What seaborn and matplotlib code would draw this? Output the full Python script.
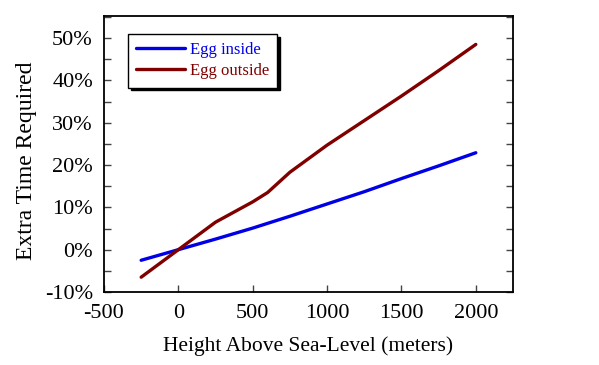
import numpy as np
import pandas as pd
import matplotlib
matplotlib.use("Agg")
import matplotlib.pyplot as plt
from matplotlib.ticker import MultipleLocator, FuncFormatter
import seaborn as sns

# データ
heights_inside = [-250, 0, 250, 500, 750, 1000, 1250, 1500, 1750, 2000]
egg_inside = [-2.5, 0.0, 2.5, 5.1, 7.9, 10.8, 13.7, 16.8, 19.8, 22.9]

heights_outside = [-250, 0, 250, 500, 600, 750, 1000, 1250, 1500, 1750, 2000]
egg_outside = [-6.5, 0.0, 6.5, 11.3, 13.5, 18.3, 24.7, 30.5, 36.3, 42.3, 48.5]

series_names = ["Egg inside", "Egg outside"]
series_colors = ["#0000e6", "#800000"]

df = pd.concat([
    pd.DataFrame({"height": heights_inside, "extra": egg_inside, "series": series_names[0]}),
    pd.DataFrame({"height": heights_outside, "extra": egg_outside, "series": series_names[1]}),
])

sns.set_style("ticks")
plt.rcParams["font.family"] = ["Liberation Serif", "DejaVu Serif"]
plt.rcParams["axes.unicode_minus"] = False
plt.rcParams["text.color"] = "black"
plt.rcParams["axes.labelcolor"] = "black"
plt.rcParams["xtick.color"] = "black"
plt.rcParams["ytick.color"] = "black"

fig = plt.figure(figsize=(5.99, 3.65), dpi=100)
ax = fig.add_axes([0.1736, 0.2, 0.6828, 0.756])

sns.lineplot(data=df, x="height", y="extra", hue="series", hue_order=series_names,
             palette=dict(zip(series_names, series_colors)), linewidth=2.4,
             sort=False, estimator=None, ax=ax)

ax.set_xlim(-500, 2250)
ax.set_ylim(-10, 55.2)
ax.xaxis.set_major_locator(MultipleLocator(500))
ax.yaxis.set_major_locator(MultipleLocator(10))
ax.yaxis.set_minor_locator(MultipleLocator(5))
ax.yaxis.set_major_formatter(FuncFormatter(lambda v, p: f"{v:.0f}%"))

ax.tick_params(axis="both", which="both", direction="in", length=5, width=1,
               labelsize=16, color="#444444")
ax.tick_params(axis="y", which="both", left=True, right=True, pad=8)
ax.tick_params(axis="x", which="both", top=False, bottom=True, pad=9)
for s in ax.spines.values():
    s.set_visible(True)
    s.set_linewidth(1.3)
    s.set_color("black")

ax.set_xlabel("Height Above Sea-Level (meters)", fontsize=15.5, labelpad=9)
ax.set_ylabel("Extra Time Required", fontsize=17)
ax.yaxis.set_label_coords(-0.165, 0.475)

leg = ax.legend(loc="upper left", bbox_to_anchor=(0.0587, 0.935), borderaxespad=0,
                fontsize=12, frameon=True, fancybox=False, framealpha=1,
                edgecolor="black", shadow={"color": "black", "alpha": 1},
                handlelength=2.95, handletextpad=0.25, borderpad=0.5,
                labelspacing=0.3, title=None)
leg.get_frame().set_linewidth(1.0)
for txt, ln in zip(leg.get_texts(), leg.get_lines()):
    txt.set_color(ln.get_color())

fig.savefig("out.png", dpi=100)
